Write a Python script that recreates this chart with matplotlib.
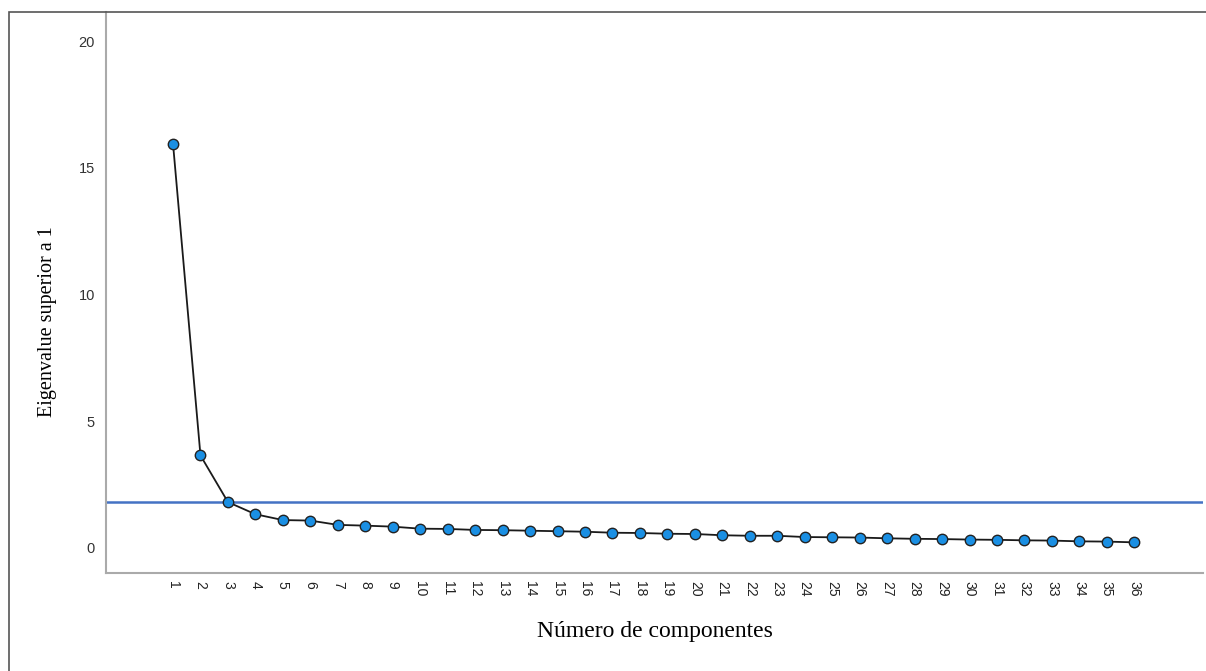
import matplotlib.pyplot as plt
from matplotlib.patches import Rectangle

# Eigenvalues
componentes = list(range(1, 37))
eigenvalues = [15.95, 3.64, 1.80, 1.32, 1.09, 1.07, 0.90, 0.87, 0.83,
               0.75, 0.74, 0.70, 0.69, 0.67, 0.65, 0.63, 0.59, 0.58,
               0.55, 0.54, 0.49, 0.47, 0.47, 0.42, 0.41, 0.40, 0.37,
               0.35, 0.34, 0.32, 0.31, 0.29, 0.28, 0.25, 0.24, 0.21]
linea_ref = 1.8
y_ticks = [0, 5, 10, 15, 20]

fig = plt.figure(figsize=(12.06, 6.71), dpi=100)

# outer frame
fig.patches.append(Rectangle((9 / 1206, -0.01), 1.05, 1 - 12 / 671 + 0.01,
                             transform=fig.transFigure, fill=False,
                             edgecolor='#555555', linewidth=1.2))

ax = fig.add_axes([106 / 1206, 1 - 573 / 671, 1097 / 1206, (573 - 12) / 671])

ax.plot(componentes, eigenvalues, color='#1a1a1a', linewidth=1.3,
        marker='o', markersize=7.5, markerfacecolor='#1a8fe3',
        markeredgecolor='#222222', markeredgewidth=1, zorder=3)
ax.axhline(linea_ref, color='#4472c4', linewidth=1.8, zorder=2)

ax.set_xlim(-1.44, 38.5)
ax.set_ylim(-1.0, 21.15)

ax.set_xticks(componentes)
ax.set_xticklabels([str(c) for c in componentes], rotation=270,
                   fontsize=10, color='#222222', family='Liberation Sans')
ax.set_yticks(y_ticks)
ax.set_yticklabels([str(v) for v in y_ticks], fontsize=10.5,
                   color='#333333', family='Liberation Sans')
ax.tick_params(axis='both', length=0)
ax.tick_params(axis='y', pad=8)
ax.tick_params(axis='x', pad=6)

for s in ['top', 'right']:
    ax.spines[s].set_visible(False)
for s in ['left', 'bottom']:
    ax.spines[s].set_color('#aaaaaa')
    ax.spines[s].set_linewidth(1.5)

fig.text(48 / 1206, 1 - 322 / 671, 'Eigenvalue superior a 1', rotation=90,
         ha='center', va='center', fontsize=14.5, family='Liberation Serif')
fig.text(655 / 1206, 1 - 632 / 671, 'Número de componentes',
         ha='center', va='center', fontsize=17, family='Liberation Serif')

fig.savefig('out.png', dpi=100)
